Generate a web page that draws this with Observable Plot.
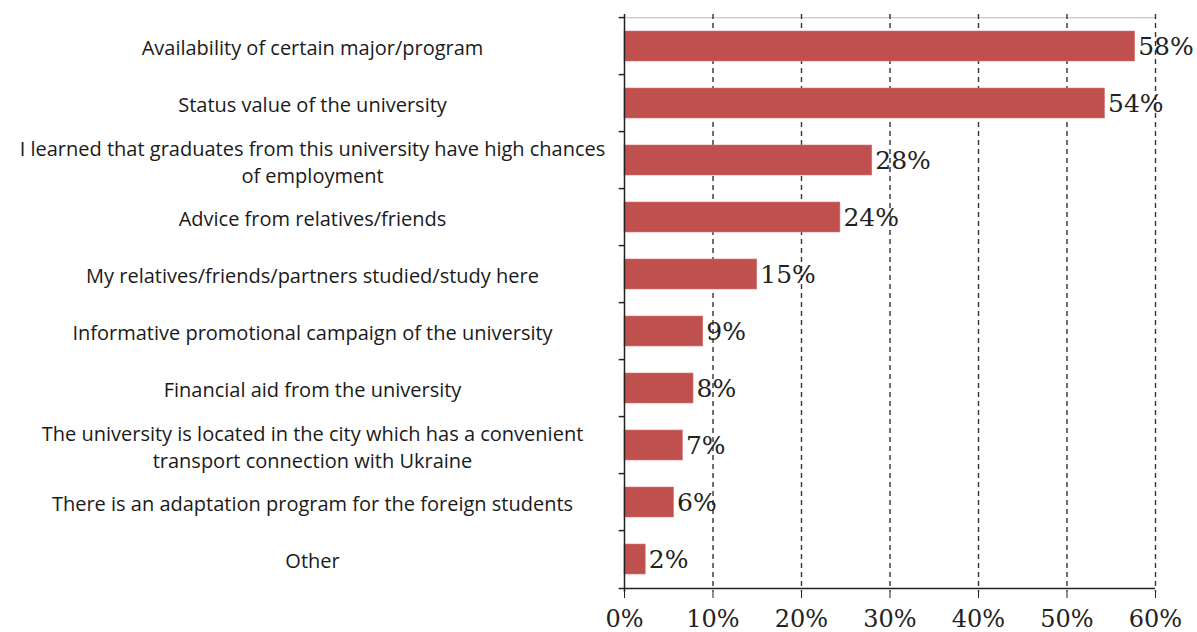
<!DOCTYPE html>
<html><head><meta charset="utf-8">
<script src="https://cdn.jsdelivr.net/npm/d3@7"></script>
<script src="https://cdn.jsdelivr.net/npm/@observablehq/plot@0.6"></script>
<style>body{margin:0;background:#fff}</style>
</head><body><div id="chart"></div>
<script>
const categories = [
  "Availability of certain major/program",
  "Status value of the university",
  "I learned that graduates from this university have high chances\nof employment",
  "Advice from relatives/friends",
  "My relatives/friends/partners studied/study here",
  "Informative promotional campaign of the university",
  "Financial aid from the university",
  "The university is located in the city which has a convenient\ntransport connection with Ukraine",
  "There is an adaptation program for the foreign students",
  "Other"
];
const values = [57.7, 54.3, 28.0, 24.4, 15.0, 8.9, 7.8, 6.6, 5.6, 2.4];
const xTicks = [0, 10, 20, 30, 40, 50, 60];
const gridTicks = [10, 20, 30, 40, 50, 60];

const data = categories.map((c, i) => ({category: c, value: values[i], label: Math.round(values[i]) + "%"}));

const W = 1197, H = 632, mt = 14, mb = 40, ml = 624, mr = 42;
const step = (H - mt - mb) / categories.length;

const chart = Plot.plot({
  width: W, height: H,
  marginTop: mt, marginBottom: mb, marginLeft: ml, marginRight: mr,
  style: {background: "#fff", color: "#111", overflow: "visible"},
  x: {domain: [0, 60], axis: null, label: null},
  y: {domain: categories, paddingInner: 0.47, paddingOuter: 0.235, axis: null, label: null},
  marks: [
    Plot.ruleY([categories[0]], {y: d => d, x1: 0, x2: 60, dy: -step / 2, stroke: "#c8c8c8", strokeWidth: 1.2}),
    Plot.ruleX(gridTicks, {stroke: "#333", strokeWidth: 1.4, strokeDasharray: "5,4"}),
    Plot.barX(data, {x: "value", y: "category", fill: "#C0504D", stroke: "#d47a77", strokeWidth: 0.6}),
    Plot.ruleX([0], {stroke: "#222", strokeWidth: 1.5}),
    Plot.ruleY(categories, {y: d => d, x1: -0.6, x2: 0, dy: -step / 2, stroke: "#222", strokeWidth: 1.5}),
    Plot.ruleY([categories[categories.length - 1]], {y: d => d, x1: -0.6, x2: 60, dy: step / 2, stroke: "#222", strokeWidth: 1.5}),
    Plot.axisX({ticks: xTicks, tickFormat: d => d + "%", label: null, tickSize: 6, tickPadding: 11, stroke: "#222", fontSize: 24, fontFamily: "DejaVu Serif", fill: "#222"}),
    Plot.text(data, {x: "value", y: "category", text: "label", textAnchor: "start", dx: 3, fontSize: 25, fontFamily: "DejaVu Serif", fill: "#222"}),
    Plot.text(data, {x: 0, y: "category", text: "category", textAnchor: "middle", dx: -312, fontSize: 20, fontFamily: "Open Sans", lineHeight: 1.35, fill: "#1a1a1a"})
  ]
});
document.getElementById("chart").appendChild(chart);
</script>
</body></html>
